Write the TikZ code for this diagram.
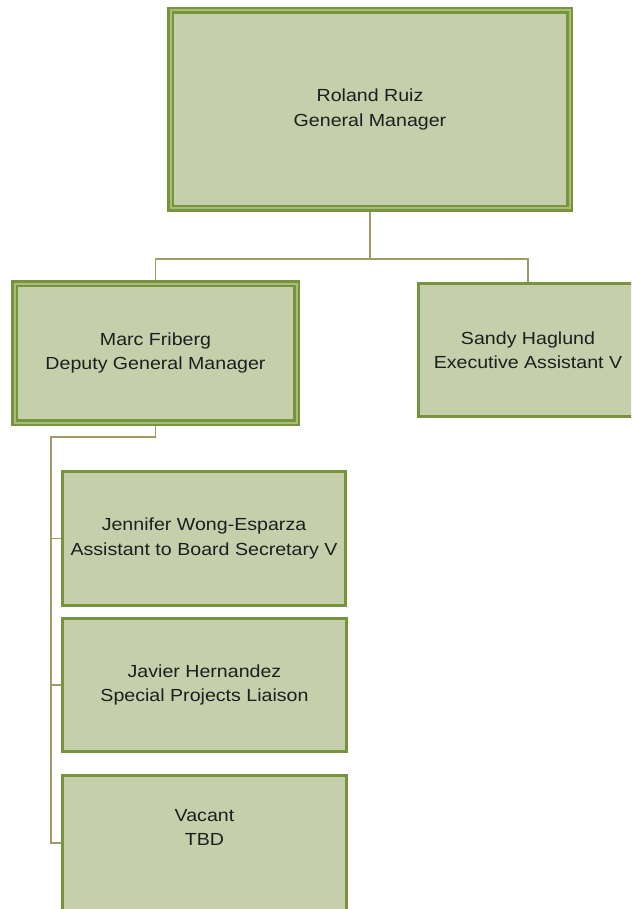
\documentclass[tikz,border=0pt]{standalone}
\usepackage{fontspec}
\setmainfont[FakeStretch=1.12]{Liberation Sans}
\usetikzlibrary{backgrounds}
\definecolor{boxfill}{HTML}{C5CFAB}
\definecolor{boxline}{HTML}{77933C}
\definecolor{boxmid}{HTML}{A9BC7C}
\definecolor{conn}{HTML}{A09A64}
\definecolor{txt}{HTML}{1E1E1E}
\tikzset{
  card/.style={rectangle, fill=boxfill, draw=boxline, line width=3pt,
    inner sep=0pt, align=center, text=txt,
    font=\fontsize{17.5pt}{24.5pt}\selectfont},
  bigcard/.style={card, line width=2.5pt, double=boxmid, double distance=2pt},
  link/.style={draw=conn, line width=1.6pt},
}
\begin{document}
\begin{tikzpicture}[x=1pt,y=-1pt]
\useasboundingbox (0,0) rectangle (631,909);
\clip (0,0) rectangle (631,909);
\node[bigcard, minimum width=399pt, minimum height=198pt] (top) at (370,109.5)
  {Roland Ruiz\\General Manager};
\node[bigcard, minimum width=282pt, minimum height=139pt] (marc) at (155.5,353)
  {Marc Friberg\\Deputy General Manager};
\node[card, minimum width=219pt, minimum height=133pt] (sandy) at (528,350)
  {Sandy Haglund\\Executive Assistant V};
\node[card, minimum width=283pt, minimum height=134pt] (jen) at (204,538.5)
  {Jennifer Wong-Esparza\\Assistant to Board Secretary V};
\node[card, minimum width=284pt, minimum height=133pt] (jav) at (204.5,685)
  {Javier Hernandez\\Special Projects Liaison};
\node[card, minimum width=284pt, minimum height=135pt] (vac) at (204.5,843) {};
\node[align=center, text=txt, inner sep=0pt,
  font=\fontsize{17.5pt}{24.5pt}\selectfont] (vactxt) at (204.5,827.5) {Vacant\\TBD};
\coordinate (bus) at (370,259);
\coordinate (spine) at (51,437);
\begin{scope}[on background layer]
\draw[link] (top.south) -- (bus);
\draw[link] (bus) -| (marc.north);
\draw[link] (bus) -| (sandy.north);
\draw[link] (marc.south) |- (spine) |- (vac.west);
\draw[link] (spine) |- (jen.west);
\draw[link] (spine) |- (jav.west);
\end{scope}
\end{tikzpicture}
\end{document}
